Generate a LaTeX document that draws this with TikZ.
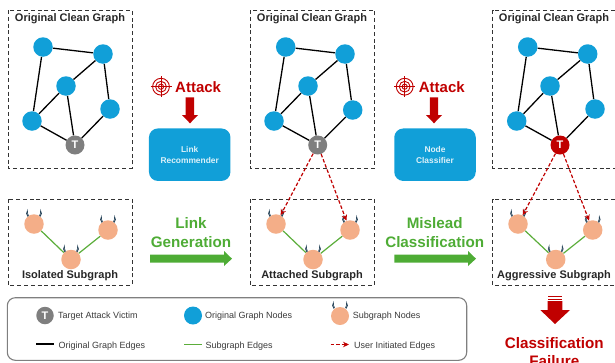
\documentclass[tikz,border=0pt]{standalone}
\usepackage{fontspec}
\setmainfont{Liberation Sans}
\usepackage{tikz}
\usetikzlibrary{arrows.meta}
\definecolor{nodeblue}{HTML}{119FD8}
\definecolor{subpeach}{HTML}{F4AE88}
\definecolor{edgegreen}{HTML}{5BAD3A}
\definecolor{textgreen}{HTML}{4EAC35}
\definecolor{darkred}{HTML}{C00000}
\definecolor{victimgray}{HTML}{7F7F7F}
\definecolor{legendtext}{HTML}{3A3A3A}
\definecolor{horndark}{HTML}{2A475C}
\newcommand{\horns}[1]{%
	\draw[horn_style,shift={(#1)}] (-6.2,-7.4) .. controls (-8,-9.5) and (-7.8,-11.5) .. (-6.6,-13.5) .. controls (-6.6,-11.5) and (-6.4,-9.5) .. (-5.4,-8);
	\draw[horn_style,shift={(#1)}] (6.2,-7.4) .. controls (8,-9.5) and (7.8,-11.5) .. (6.6,-13.5) .. controls (6.6,-11.5) and (6.4,-9.5) .. (5.4,-8);
}
\newcommand{\targeticon}[1]{%
	\draw[target_style,shift={(#1)}] (0,0) circle (8.4) (0,0) circle (5.4) (0,0) circle (2.6);
	\draw[target_style,shift={(#1)}] (-10.5,0) -- (10.5,0) (0,-10.5) -- (0,10.5);
}
\begin{document}
\begin{tikzpicture}[x=1pt, y=-1pt,
		node_style/.style={circle,fill=nodeblue,minimum size=19.5pt,inner sep=0pt},
		sub_style/.style={circle,fill=subpeach,minimum size=19.5pt,inner sep=0pt},
		victim_style/.style={circle,fill=victimgray,minimum size=19pt,inner sep=0pt,text=white,font=\fontsize{11}{12}\selectfont\bfseries},
		attack_style/.style={victim_style,fill=darkred},
		edge_style/.style={draw=black,line width=1.3pt},
		sub_edge/.style={draw=edgegreen,line width=1.2pt},
		red_edge/.style={draw=darkred,line width=1.2pt,dash pattern=on 3.5pt off 2pt,-{Stealth[length=6pt,width=5.5pt]}},
		box_style/.style={draw=black!80,line width=1pt,dash pattern=on 4pt off 2.8pt},
		horn_style/.style={draw=horndark,fill=horndark!20,line width=0.6pt},
		target_style/.style={draw=darkred,line width=0.9pt},
		title_style/.style={font=\fontsize{11}{13}\selectfont\bfseries,text=black!85,inner sep=0pt,text height=8pt,text depth=2.3pt},
		attack_text/.style={font=\fontsize{15}{17}\selectfont\bfseries,text=darkred,inner sep=0pt},
		green_text/.style={font=\fontsize{15.2}{18.4}\selectfont\bfseries,text=textgreen,align=center,inner sep=0pt},
		model_style/.style={fill=nodeblue,rounded corners=9pt,minimum width=81.5pt,minimum height=52.5pt,inner sep=0pt,text=white!85!nodeblue,align=center,font=\fontsize{8.4}{10.8}\selectfont\bfseries},
		legend_text/.style={font=\fontsize{9}{11}\selectfont,text=legendtext,anchor=west,inner sep=0pt,text height=6.5pt,text depth=1.9pt}]
	\useasboundingbox (0,0) rectangle (615,362);

	% dashed frames
	\draw[box_style] (8,10) rectangle (132,168);
	\draw[box_style] (8,199) rectangle (132,285);
	\draw[box_style] (250,10) rectangle (374.5,168);
	\draw[box_style] (250,199) rectangle (374.5,285);
	\draw[box_style] (615,10) -- (492.5,10) -- (492.5,168) -- (615,168);
	\draw[box_style] (615,199) -- (492.5,199) -- (492.5,285) -- (615,285);

	\node[title_style] (title1) at (70,18.8) {Original Clean Graph};
	\node[title_style] (title2) at (312,18.8) {Original Clean Graph};
	\node[title_style] (title3) at (554,18.8) {Original Clean Graph};
	\node[title_style] (title4) at (70,276) {Isolated Subgraph};
	\node[title_style] (title5) at (312,276) {Attached Subgraph};
	\node[title_style] (title6) at (554,276) {Aggressive Subgraph};

	% clean graphs
	\node[node_style] (a0) at (43,47) {};
	\node[node_style] (a1) at (103,54) {};
	\node[node_style] (a2) at (66,86) {};
	\node[node_style] (a3) at (110,109) {};
	\node[node_style] (a4) at (32,121) {};
	\node[victim_style] (a5) at (75,145) {T};

	\node[node_style] (b0) at (285.7,47) {};
	\node[node_style] (b1) at (345,54) {};
	\node[node_style] (b2) at (308,86) {};
	\node[node_style] (b3) at (352.7,110) {};
	\node[node_style] (b4) at (274,121) {};
	\node[victim_style] (b5) at (317.7,145) {T};

	\node[node_style] (c0) at (527.7,47) {};
	\node[node_style] (c1) at (587.7,54) {};
	\node[node_style] (c2) at (550,86) {};
	\node[node_style] (c3) at (595,109) {};
	\node[node_style] (c4) at (516.7,121) {};
	\node[attack_style] (c5) at (560,145) {T};

	\draw[edge_style] (a0) edge (a1) (a0) edge (a4) (a1) edge (a2) (a1) edge (a3);
	\draw[edge_style] (a2) edge (a4) (a2) edge (a5) (a3) edge (a5) (a4) edge (a5);
	\draw[edge_style] (b0) edge (b1) (b0) edge (b4) (b1) edge (b2) (b1) edge (b3);
	\draw[edge_style] (b2) edge (b4) (b2) edge (b5) (b3) edge (b5) (b4) edge (b5);
	\draw[edge_style] (c0) edge (c1) (c0) edge (c4) (c1) edge (c2) (c1) edge (c3);
	\draw[edge_style] (c2) edge (c4) (c2) edge (c5) (c3) edge (c5) (c4) edge (c5);

	% subgraphs
	\node[sub_style] (s0) at (34,224) {};
	\node[sub_style] (s1) at (71,259.5) {};
	\node[sub_style] (s2) at (108,230) {};
	\node[sub_style] (t0) at (276,224) {};
	\node[sub_style] (t1) at (313,259.5) {};
	\node[sub_style] (t2) at (350,230) {};
	\node[sub_style] (u0) at (518,224) {};
	\node[sub_style] (u1) at (555.7,259.5) {};
	\node[sub_style] (u2) at (592.7,230) {};

	\horns{s0} \horns{s1} \horns{s2}
	\horns{t0} \horns{t1} \horns{t2}
	\horns{u0} \horns{u1} \horns{u2}

	\draw[sub_edge] (s0) edge (s1) (s1) edge (s2);
	\draw[sub_edge] (t0) edge (t1) (t1) edge (t2);
	\draw[sub_edge] (u0) edge (u1) (u1) edge (u2);

	\draw[red_edge] (b5) -- (t0);
	\draw[red_edge] (b5) -- (t2);
	\draw[red_edge] (c5) -- (u0);
	\draw[red_edge] (c5) -- (u2);

	% attack steps
	\coordinate (target1) at (161,86.7);
	\coordinate (target2) at (404.7,86.7);
	\targeticon{target1}
	\targeticon{target2}
	\node[attack_text,anchor=west] (attack1) at (175,87.3) {Attack};
	\node[attack_text,anchor=west] (attack2) at (418.7,86.8) {Attack};
	\fill[darkred] (185.7,97.3) -- (194,97.3) -- (194,115) -- (198,115) -- (190,123.3) -- (182,115) -- (185.7,115) -- cycle;
	\fill[darkred] (429.9,97.3) -- (438.2,97.3) -- (438.2,115) -- (442,115) -- (434,123.3) -- (426,115) -- (429.9,115) -- cycle;
	\node[model_style] (link) at (189.7,154.7) {Link\\Recommender};
	\node[model_style] (classifier) at (435,154.7) {Node\\Classifier};

	% generation steps
	\node[green_text] (gen) at (191,232.7) {Link\\Generation};
	\node[green_text] (mis) at (434.7,232.7) {Mislead\\Classification};
	\fill[textgreen] (150,254.7) -- (224,254.7) -- (224,251) -- (232,258.7) -- (224,266) -- (224,262.7) -- (150,262.7) -- cycle;
	\fill[textgreen] (394.3,254.7) -- (468,254.7) -- (468,251) -- (476,258.7) -- (468,266) -- (468,262.7) -- (394.3,262.7) -- cycle;

	% failure
	\fill[darkred] (547.7,296) rectangle (562.3,297.4);
	\fill[darkred] (547.7,298.6) rectangle (562.3,300);
	\fill[darkred] (547.7,301.2) -- (562.3,301.2) -- (562.3,310) -- (570,310) -- (555,324) -- (540.3,310) -- (547.7,310) -- cycle;
	\node[green_text,text=darkred] (fail) at (554.3,352.3) {Classification\\Failure};

	% legend
	\draw[draw=victimgray,line width=1.1pt,rounded corners=8pt] (7.3,297.7) rectangle (466.7,360.3);
	\node[victim_style,minimum size=17.5pt] (lg0) at (45,315.5) {T};
	\node[legend_text] (lt0) at (58,316.5) {Target Attack Victim};
	\node[node_style,minimum size=18pt] (lg1) at (193,315.5) {};
	\node[legend_text] (lt1) at (205,316.5) {Original Graph Nodes};
	\node[sub_style,minimum size=18pt] (lg2) at (340,316) {};
	\horns{lg2}
	\node[legend_text] (lt2) at (352.7,316.5) {Subgraph Nodes};
	\coordinate (l3a) at (36,344);
	\coordinate (l3b) at (54,344);
	\coordinate (l4a) at (184,344.5);
	\coordinate (l4b) at (202,344.5);
	\coordinate (l5a) at (330.7,344.5);
	\coordinate (l5b) at (349,344.5);
	\draw[edge_style] (l3a) -- (l3b);
	\draw[sub_edge] (l4a) -- (l4b);
	\draw[red_edge] (l5a) -- (l5b);
	\node[legend_text] (lt3) at (58.5,345.8) {Original Graph Edges};
	\node[legend_text] (lt4) at (205.5,345.8) {Subgraph Edges};
	\node[legend_text] (lt5) at (354,345.8) {User Initiated Edges};
\end{tikzpicture}
\end{document}
